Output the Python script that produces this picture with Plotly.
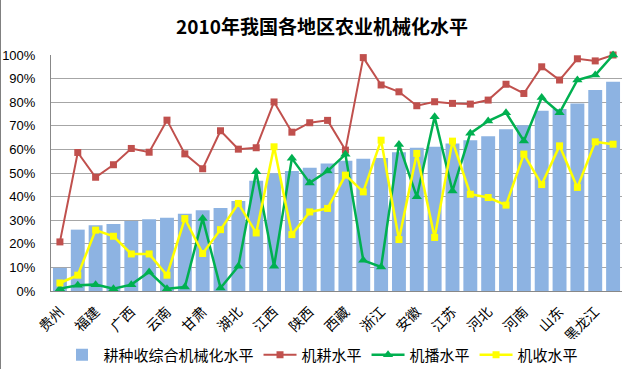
import plotly.graph_objects as go

regions = ["贵州", "重庆", "福建", "海南", "广西", "四川", "云南", "广东",
           "甘肃", "湖南", "湖北", "山西", "江西", "青海", "陕西", "宁夏",
           "西藏", "辽宁", "浙江", "上海", "安徽", "吉林", "江苏", "北京",
           "河北", "天津", "河南", "内蒙古", "山东", "新疆", "黑龙江", "新疆兵团"]

overall = [9.8, 26.0, 27.9, 28.4, 29.7, 30.4, 31.0, 32.7, 34.2, 35.2, 38.1, 46.7,
           49.9, 50.8, 52.2, 54.0, 55.2, 56.0, 56.4, 58.8, 60.7, 61.1, 62.5, 63.9,
           65.6, 68.5, 70.2, 76.4, 77.1, 79.5, 85.2, 88.7]
plowing = [20.8, 58.7, 48.2, 53.5, 60.4, 58.8, 72.4, 58.1, 51.8, 67.9, 60.1, 60.7,
           80.1, 67.3, 71.3, 72.3, 59.7, 98.9, 87.3, 84.4, 78.5, 80.2, 79.5, 79.2,
           80.9, 87.6, 83.7, 95.0, 89.4, 98.4, 97.5, 100.0]
sowing = [1.0, 2.4, 2.7, 1.0, 2.7, 8.1, 1.0, 1.7, 30.7, 1.3, 10.5, 50.5,
          10.5, 56.2, 45.8, 50.8, 57.9, 13.0, 10.2, 62.1, 39.9, 73.8, 42.4, 66.8,
          72.0, 75.5, 63.6, 82.0, 75.5, 89.4, 91.5, 100.0]
harvest = [3.4, 6.7, 25.8, 23.2, 15.7, 15.7, 6.7, 30.7, 15.9, 26.0, 37.1, 24.6,
           61.1, 23.9, 33.5, 35.0, 49.1, 42.0, 63.9, 21.8, 58.3, 22.7, 63.5, 41.0,
           39.6, 36.4, 58.0, 45.1, 61.5, 43.9, 63.2, 62.2]

tick_labels = regions[::2]
y_ticks = [i / 10 for i in range(11)]

def frac(v):
    return [x / 100 for x in v]

cjk = "Noto Sans CJK SC"

fig = go.Figure()
fig.add_trace(go.Bar(x=regions, y=frac(overall), name="耕种收综合机械化水平",
                     marker=dict(color="#8DB3E2", line=dict(width=0))))
fig.add_trace(go.Scatter(x=regions, y=frac(plowing), name="机耕水平", mode="lines+markers",
                         cliponaxis=False,
                         line=dict(color="#C0504D", width=2),
                         marker=dict(symbol="square", size=7, color="#C0504D")))
fig.add_trace(go.Scatter(x=regions, y=frac(sowing), name="机播水平", mode="lines+markers",
                         cliponaxis=False,
                         line=dict(color="#00B050", width=2.5),
                         marker=dict(symbol="triangle-up", size=9, color="#00B050")))
fig.add_trace(go.Scatter(x=regions, y=frac(harvest), name="机收水平", mode="lines+markers",
                         cliponaxis=False,
                         line=dict(color="#FFFF00", width=2.5),
                         marker=dict(symbol="square", size=7, color="#FFFF00")))

L, R, T, B = 51, 2, 55, 78
W, H = 624, 369
pw, ph = W - L - R, H - T - B

fig.update_layout(
    width=W, height=H,
    margin=dict(l=L, r=R, t=T, b=B, autoexpand=False),
    paper_bgcolor="white", plot_bgcolor="white",
    bargap=0.22,
    title=dict(text="<b>2010年我国各地区农业机械化水平</b>", xref="container", x=322 / W,
               xanchor="center", yref="container", y=1 - 27 / H, yanchor="middle",
               font=dict(family=cjk, size=19, color="black")),
    xaxis=dict(type="category", tickmode="array", tickvals=tick_labels, ticktext=tick_labels,
               tickangle=-45, tickfont=dict(family=cjk, size=14, color="black"),
               showline=True, linecolor="#888888", linewidth=1, ticks="",
               ticklabelstandoff=6, automargin=False,
               showgrid=False, range=[-0.5, len(regions) - 0.5]),
    yaxis=dict(range=[0, 1.0], tickvals=y_ticks, tickformat=".0%",
               tickfont=dict(family="Liberation Sans", size=13, color="black"),
               ticklabelstandoff=12, automargin=False,
               showgrid=True, gridcolor="#A6A6A6", gridwidth=1,
               showline=True, linecolor="#888888", linewidth=1, zeroline=False),
    legend=dict(orientation="h", xref="paper", x=(322 - L) / pw, xanchor="center",
                yref="paper", y=-(355 - (T + ph)) / ph, yanchor="middle",
                font=dict(family=cjk, size=15, color="black"),
                itemwidth=33, tracegroupgap=0),
    showlegend=True,
    shapes=[dict(type="line", xref="paper", yref="paper",
                 x0=(0.5 - L) / pw, x1=(0.5 - L) / pw,
                 y0=-(H - (T + ph)) / ph, y1=(T + ph) / ph,
                 line=dict(color="#808080", width=1), layer="below")],
)

fig.write_html("out.html", config={"displayModeBar": False},
               post_script="document.body.style.margin='0';")
